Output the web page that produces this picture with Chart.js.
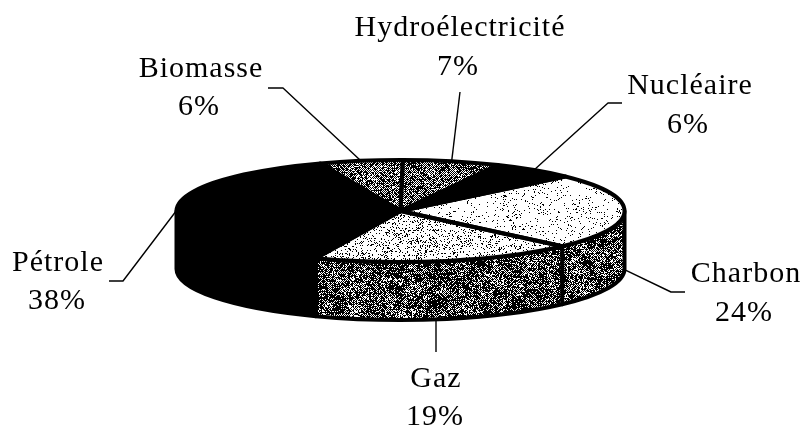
<!DOCTYPE html>
<html>
<head>
<meta charset="utf-8">
<style>
  html, body { margin: 0; padding: 0; background: #fff; }
  canvas { display: block; }
</style>
<script src="https://cdn.jsdelivr.net/npm/chart.js@4"></script>
</head>
<body>
<canvas id="chartjs" width="805" height="427"></canvas>
<script>
// clockwise, starting from the slice left of the 12 o'clock line
const categories = ['Biomasse', 'Hydroélectricité', 'Nucléaire', 'Charbon', 'Gaz', 'Pétrole']
const shares = [6, 7, 6, 24, 19, 38]

// look of the fake 3d: [chance of a black pixel, clumpiness, dither strength]
const topInk = [[0.6, 0.15, 0.3], [0.6, 0.18, 0.3], [1, 0, 0], [0.07, 0.7, 0], [0.17, 0.5, 0], [1, 0, 0]]
const sideInk = [[0.7, 0, 0], [0.7, 0, 0], [1, 0, 0], [0.7, 0.25, 0.2], [0.7, 0.25, 0.2], [1, 0, 0]]

// where the text goes: [name x, name baseline, percent x, percent baseline]
const labelSpots = [
  [201, 77, 199, 115],
  [460, 36, 458, 75],
  [690, 94, 688, 133],
  [746, 282, 744, 321],
  [436, 387, 435, 425],
  [58, 271, 57, 309]
]
// leader line from the rim out to the text
const leaderEnds = [
  [[283, 88], [268, 88]],
  [[460, 92]],
  [[608, 103], [622, 103]],
  [[671, 292], [685, 292]],
  [[436, 352]],
  [[123, 281], [109, 281]]
]

const RADIUS = 224
const FLAT = 51 / 224
const DEPTH = 58

// small deterministic hash, gives the scanned-print grain
function grain(x, y, seed) {
  let h = (x * 374761 + y * 668265 + seed * 7919) | 0
  h = Math.imul(h ^ (h >>> 13), 1274126177)
  h = Math.imul(h ^ (h >>> 15), 2246822519)
  return ((h ^ (h >>> 16)) >>> 0) / 4294967296
}

function smoothGrain(x, y, seed) {
  const cell = 6
  const cx = Math.floor(x / cell), cy = Math.floor(y / cell)
  const fx = x / cell - cx, fy = y / cell - cy
  const top = grain(cx, cy, seed) * (1 - fx) + grain(cx + 1, cy, seed) * fx
  const bot = grain(cx, cy + 1, seed) * (1 - fx) + grain(cx + 1, cy + 1, seed) * fx
  return top * (1 - fy) + bot * fy
}

function makePattern(ink, seed, squash) {
  const size = 256
  const tile = document.createElement('canvas')
  tile.width = tile.height = size
  const c = tile.getContext('2d')
  const img = c.createImageData(size, size)
  for (let y = 0; y < size; y++) {
    for (let x = 0; x < size; x++) {
      const clump = 1 + ink[1] * (smoothGrain(x, y, seed) - 0.5) * 2.4
      const checker = (x + y) % 2 === 0 ? ink[2] : -ink[2]
      const black = grain(x, y, seed + 1) < ink[0] * clump + checker
      const i = (y * size + x) * 4
      img.data[i] = img.data[i + 1] = img.data[i + 2] = black ? 0 : 255
      img.data[i + 3] = 255
    }
  }
  c.putImageData(img, 0, 0)
  const p = c.createPattern(tile, 'repeat')
  // the top face is drawn inside a flattened context, undo that for the grain
  if (squash) p.setTransform(new DOMMatrix().scale(1, 1 / FLAT))
  return p
}

const topFills = topInk.map((ink, i) => makePattern(ink, i * 3 + 1, true))
const sideFills = sideInk.map((ink, i) => makePattern(ink, i * 5 + 40, false))

const fakePie3d = {
  id: 'fakePie3d',
  beforeDatasetDraw(chart) {
    const ctx = chart.ctx
    chart.getDatasetMeta(0).data.forEach((arc, i) => {
      const from = Math.max(arc.startAngle, 0)
      const to = Math.min(arc.endAngle, Math.PI)
      if (from >= to) return
      ctx.beginPath()
      ctx.ellipse(arc.x, arc.y, RADIUS, RADIUS * FLAT, 0, from, to)
      ctx.ellipse(arc.x, arc.y + DEPTH, RADIUS, RADIUS * FLAT, 0, to, from, true)
      ctx.closePath()
      ctx.fillStyle = sideFills[i]
      ctx.fill()
      ctx.lineWidth = 4
      ctx.strokeStyle = '#000'
      ctx.lineJoin = 'round'
      ctx.stroke()
    })
    const first = chart.getDatasetMeta(0).data[0]
    ctx.save()
    ctx.translate(0, first.y)
    ctx.scale(1, FLAT)
    ctx.translate(0, -first.y)
  },
  afterDatasetDraw(chart) {
    const ctx = chart.ctx
    ctx.restore()
    const arcs = chart.getDatasetMeta(0).data
    ctx.strokeStyle = '#000'
    ctx.lineJoin = 'round'
    arcs.forEach(arc => {
      ctx.beginPath()
      ctx.moveTo(arc.x, arc.y)
      ctx.ellipse(arc.x, arc.y, RADIUS, RADIUS * FLAT, 0, arc.startAngle, arc.endAngle)
      ctx.closePath()
      ctx.lineWidth = 4
      ctx.stroke()
    })

    // leaders and text
    ctx.lineWidth = 1.4
    ctx.fillStyle = '#000'
    ctx.font = '30px "Liberation Serif"'
    ctx.textAlign = 'center'
    ctx.textBaseline = 'alphabetic'
    ctx.letterSpacing = '1px'
    arcs.forEach((arc, i) => {
      const mid = (arc.startAngle + arc.endAngle) / 2
      const onFront = Math.sin(mid) > 0
      const ends = leaderEnds[i]
      // a straight leader under the pie hangs vertically
      const startX = onFront && ends.length === 1 ? ends[0][0] : arc.x + RADIUS * Math.cos(mid)
      ctx.beginPath()
      ctx.moveTo(startX, arc.y + RADIUS * FLAT * Math.sin(mid) + (onFront ? DEPTH : 0))
      ends.forEach(pt => ctx.lineTo(pt[0], pt[1]))
      ctx.stroke()
      const spot = labelSpots[i]
      ctx.fillText(categories[i], spot[0], spot[1])
      ctx.fillText(shares[i] + '%', spot[2], spot[3])
    })
  }
}

function drawChart() {
  const ctx = document.getElementById('chartjs').getContext('2d')
  new Chart(ctx, {
    type: 'pie',
    data: {
      labels: categories,
      datasets: [{
        data: shares,
        backgroundColor: topFills,
        borderWidth: 0,
        radius: RADIUS
      }]
    },
    options: {
      responsive: false,
      animation: false,
      rotation: -21,
      layout: { padding: { left: 0, right: 4, top: 0, bottom: 5 } },
      plugins: {
        legend: { display: false },
        tooltip: { enabled: false }
      }
    },
    plugins: [fakePie3d]
  })
}

window.onload = function() {
  drawChart()
}
</script>
</body>
</html>
